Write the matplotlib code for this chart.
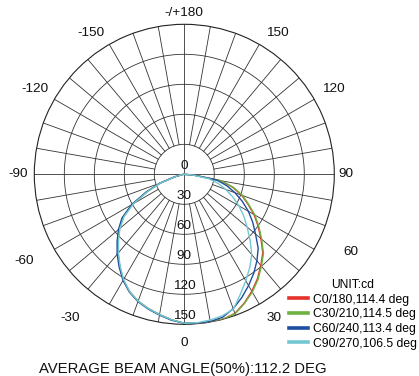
import numpy as np
import matplotlib
matplotlib.use('Agg')
import matplotlib.pyplot as plt
from matplotlib.lines import Line2D

plt.rcParams['font.family'] = ['Liberation Sans', 'DejaVu Sans']

# gamma angles, -90 .. 90 in 5 deg steps
gamma = list(range(-90, 95, 5))

# intensity in cd
c0_180 = [0, 1, 3, 10, 26, 41, 59.5, 74.5, 84.5, 93.5, 103, 112.5, 122, 129.5, 135, 139, 142.5, 146,
          149, 149.5, 150, 150, 148, 142, 135, 127.5, 119, 111, 100, 90, 80.5, 70, 61, 50, 37, 10, 0]
c30_210 = [0, 1, 3, 10, 26, 41.5, 60, 75, 85, 94, 103.5, 112.5, 122, 129.5, 135, 139, 142.5, 146,
           149, 149.5, 150, 150, 148.5, 142.5, 136, 128.5, 120, 112, 101, 91, 81.5, 71, 62, 51, 38, 10, 0]
c60_240 = [0, 1, 3, 10, 26, 42, 61, 76, 86, 95, 104.5, 113.5, 122.5, 130, 135.5, 139.5, 143, 146.5,
           149, 149.5, 149.5, 148, 143, 136, 128.5, 121, 113, 104.5, 93, 83.5, 74, 64, 54, 44, 33, 10, 0]
c90_270 = [0, 1, 3, 9, 25, 40, 58.5, 73.5, 84, 93, 102.5, 112, 121.5, 129.5, 135, 139, 142.5, 146,
           149, 149, 148, 146.5, 143.5, 132.5, 123, 114, 105, 93, 82, 72.5, 63, 53.5, 44, 35, 25, 8, 0]

series = [c0_180, c30_210, c60_240, c90_270]
names = ['C0/180,114.4 deg', 'C30/210,114.5 deg', 'C60/240,113.4 deg', 'C90/270,106.5 deg']
colors = ['#e5302b', '#6cb33f', '#1d4f9e', '#74c8d3']

rings = [30, 60, 90, 120, 150]
ring_labels = ['0', '30', '60', '90', '120', '150']
ang_labels = ['0', '30', '60', '90', '120', '150', '-/+180', '-150', '-120', '-90', '-60', '-30']
# where each angle label sits (deg, radius in cd units)
ang_label_at = [0, 32, 65, 90, 119.7, 146.6, 180, -146.6, -119.7, -90, -61.5, -38.5]
ang_label_r = [169, 170, 184, 162, 172, 169, 161, 169, 172, 166, 182, 184]

W, H = 419, 376
fig = plt.figure(figsize=(W / 100, H / 100), dpi=100)
cx, cy, R = 184.3, 174.3, 150
ax = fig.add_axes([(cx - R) / W, (H - cy - R) / H, 2 * R / W, 2 * R / H], projection='polar')
ax.set_theta_zero_location('S')
ax.set_theta_direction(1)
ax.set_ylim(0, 150)
ax.set_xticks([])
ax.set_yticks([])
ax.grid(False)
ax.spines['polar'].set_linewidth(0.8)
ax.spines['polar'].set_color('#222222')

gc = '#333333'
full = np.linspace(0, 2 * np.pi, 721)
for r in rings[:-1]:
    ax.plot(full, np.full_like(full, r), color=gc, lw=0.6, zorder=1)
for a in range(0, 360, 10):
    t = np.deg2rad(a)
    r0 = 0 if a % 90 == 0 else 30
    ax.plot([t, t], [r0, 150], color=gc, lw=0.6, zorder=1)

th = np.deg2rad(gamma)
for vals, name, col in zip(series, names, colors):
    ax.plot(th, vals, color=col, lw=1.0, zorder=3, label=name)

for r, lab in zip([0] + rings, ring_labels):
    ax.annotate(lab, (0, r), xytext=(0, 6.2), textcoords='offset points',
                ha='center', va='center', fontsize=9.7, color='#111111', zorder=5)

for a, lab, r in zip(ang_label_at, ang_labels, ang_label_r):
    ax.text(np.deg2rad(a), r, lab, ha='center', va='center', fontsize=9.7,
            color='#111111', clip_on=False)

leg_handles = [Line2D([], [], color=c, lw=2.6) for c in colors]
fig.legend(leg_handles, names, loc='upper left', bbox_to_anchor=(289 / W, 1 - 279 / H),
           frameon=False, fontsize=8.7, handlelength=1.6, handletextpad=0.35,
           labelspacing=0.22, borderpad=0, borderaxespad=0, title='UNIT:cd',
           title_fontsize=8.7)

fig.text(182.5 / W, 1 - 369.5 / H, 'AVERAGE BEAM ANGLE(50%):112.2 DEG', ha='center', va='center',
         fontsize=10.7, color='#111111')

fig.savefig('out.png', dpi=100)
